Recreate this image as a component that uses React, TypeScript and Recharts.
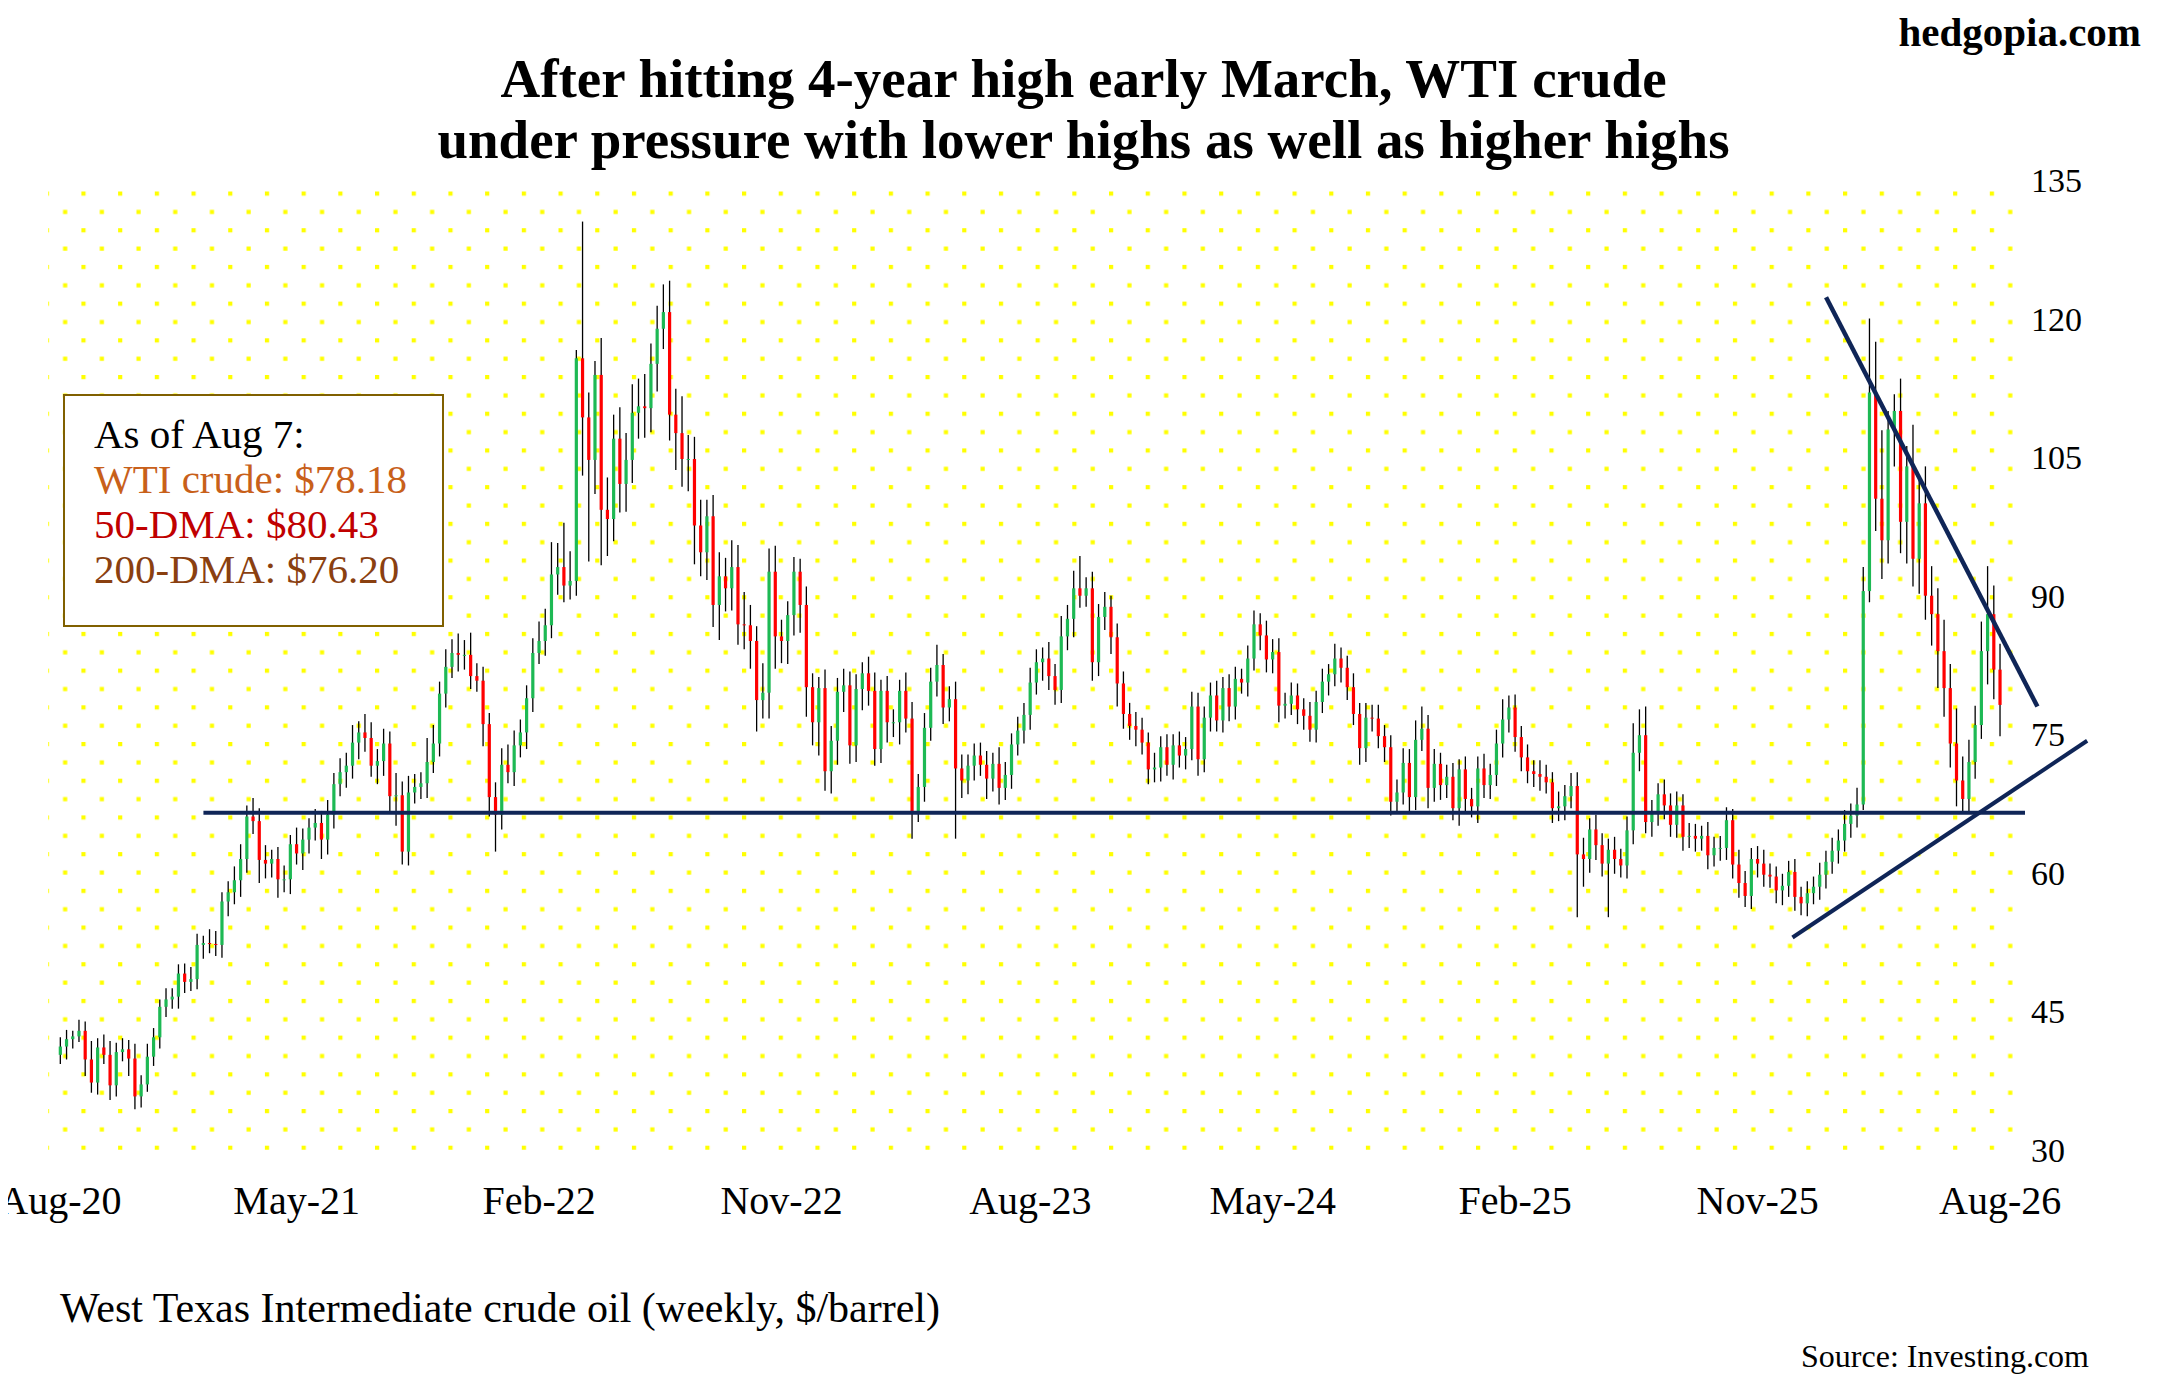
import React from "react";
import {
  ComposedChart,
  Bar,
  XAxis,
  YAxis,
  CartesianGrid,
  ReferenceLine,
} from "recharts";

// weekly closes, Aug 7 2020 .. Aug 7 2026
const closes2020 = [41.2,42.0,42.3,42.9,39.8,37.3,41.1,40.3,37.0,40.6,40.9,39.9,35.8,37.1,40.1,42.2,45.5,46.3,46.6,49.1,48.2,48.5];
const closes2021 = [52.2,52.4,52.3,52.2,56.9,57.9,59.2,61.5,66.1,65.6,61.4,61.0,61.5,59.3,59.3,63.1,62.1,63.6,64.9,65.4,63.6,66.3,69.6,70.9,71.6,74.1,75.2,74.6,71.6,72.1,74.0,68.3,68.4,62.3,68.7,69.3,69.7,72.0,74.0,79.4,82.3,83.8,83.6,83.6,81.3,80.8,76.1,68.2,66.3,71.7,70.9,73.8,75.2];
const closes2022 = [78.9,83.8,85.1,86.8,92.3,93.1,91.1,91.6,115.7,109.3,104.7,113.9,99.3,98.3,107.0,102.1,104.7,109.8,110.5,110.3,115.1,118.9,120.7,109.6,107.6,104.8,104.8,97.6,94.7,98.6,89.0,92.1,90.8,93.1,86.9,86.8,85.1,78.7,79.5,92.6,85.6,85.1,87.9,92.6,89.0,80.1,76.3,80.0,71.0,74.3,79.6,80.3];
const closes2023 = [73.8,79.9,81.6,79.7,73.4,79.7,76.3,76.3,79.7,76.7,66.7,69.3,75.7,80.7,82.5,77.9,78.8,71.3,70.0,71.6,72.7,71.7,70.2,71.8,69.2,70.6,73.9,75.4,77.1,80.6,82.8,83.2,81.3,79.8,85.6,87.5,90.8,90.0,90.8,82.8,87.7,88.8,85.5,80.5,77.2,75.9,75.5,74.1,71.2,71.4,73.6,71.7];
const closes2024 = [73.8,72.7,73.4,78.0,72.3,76.8,79.2,76.5,80.0,78.0,81.0,80.6,83.2,86.9,85.7,83.1,83.9,78.1,78.3,79.2,77.7,77.0,75.5,78.5,80.7,81.5,83.2,82.2,80.1,77.2,73.5,76.8,76.7,74.8,73.6,67.7,68.7,71.9,68.2,74.4,75.6,69.2,71.8,69.5,70.4,67.0,71.2,68.0,67.2,71.3,69.5,70.6];
const closes2025 = [74.0,76.6,77.9,74.7,72.5,71.0,70.7,70.4,69.8,67.0,67.2,68.3,69.4,62.0,61.5,64.7,63.0,61.0,62.5,61.5,60.8,64.6,73.0,74.9,65.5,66.5,68.5,67.3,65.2,67.3,63.9,64.0,63.7,64.0,61.9,62.7,62.7,65.7,60.9,58.9,57.5,61.5,61.0,59.8,59.6,58.1,58.6,60.1,57.4,56.7,57.8];
const closes2026 = [58.5,59.8,61.2,62.4,63.5,65.3,66.2,67.4,90.5,112.0,100.5,96.0,108.0,110.0,98.0,104.0,94.0,100.0,90.0,88.0,84.0,80.0,74.0,70.0,68.0,72.0,76.0,84.0,88.0,82.0,78.18];

// how far each week's high went above its body
const up2020 = [1,1,0.6,1.2,1,2,1,1.4,1.5,1, 1.2,1,1.6,1,1.4,1,0.8,1.2,0.9,1, 1.1,1.3];
const up2021 = [1.2,0.8,1.5,1.4,1,1.2,1.5,1.6,1.2,2, 1.4,1.6,1,1.3,1.5,1,1.8,1.2,1,1.5, 1.3,1.6,1.2,1.5,1.4,1.9,1.2,2,1.7,1.3, 1.6,1.3,2.4,1.5,1.8,1.4,1.2,2.6,2,1.3, 1.9,1.5,2.1,1.6,2.4,1.4,1.5,1.2,1.6,1.8, 2.2,1.6,1.4];
const up2022 = [1.4,1.6,2.1,1.8,3.5,2.6,4.8,3.2,0.9,14.8, 2.7,1.5,4,3.5,2.6,3.4,2.9,3.1,3,3.5, 2.2,2.5,3,3.4,2.8,4,2.6,2.4,2.8,1.8, 2.3,2.6,2,2.9,2.4,3.5,2.2,1.6,3.2,2.5, 2.8,1.8,1.5,1.6,1.4,2,1.5,1.2,2,1.6, 1.5,1.8];
const up2023 = [1.5,1.6,1.2,1.8,2,1.2,1.6,1.4,1.2,2, 1.8,1.4,1.6,1.5,2.2,1.2,1.4,1.9,1.5,1.2, 1.3,1.4,1.5,1.2,1.8,1.4,1.2,1.5,1.3,1.6, 1.4,1.2,1.8,1.3,2.2,1.5,1.9,3.5,1.2,1.8, 1.4,1.6,1.2,1.5,1.3,1.2,1.5,1.3,1.1,1.6, 1.2,1.4];
const up2024 = [1.2,1.5,1.3,1.6,1.5,1.2,1.4,1.6,1.2,1.5, 1.3,1.1,1.4,1.5,1.2,1.6,1.4,1.5,1.2,1.4, 1.3,1.2,1.5,1.2,1.4,1.1,1.6,1.2,1.3,1.5, 1.2,1.6,1.4,1.5,1.2,1.3,1.4,1.6,1.5,2.1, 2.4,1.5,1.6,1.2,1.3,1.5,1.1,1.4,1.2,1.3, 1.6,1.2];
const up2025 = [1.5,2.2,1.3,1.4,1.2,1.4,1.2,1.5,1.3,1.1, 1.6,1.2,1.4,1.5,1.8,1.2,1.6,1.3,1.2,1.4, 1.1,1.5,3.2,2.8,3.1,1.4,1.2,1.6,1.3,1.5, 1.2,1.4,1.3,1.1,1.5,1.2,1.3,1.4,1.2,1.6, 1.3,1.2,1.4,1.5,1.2,1.1,1.3,1.2,1.4,1.1, 1.3];
const up2026 = [1.1,1.3,1.2,1.4,1.2,1.5,1.3,1.8,2.6,8, 5.5,7.4,2,1.8,3.5,2.2,4.5,2.6,4,3.2, 2.8,3.4,2.6,3.8,2.6,2.4,2.1,3.2,5.2,3.1, 2.8];

// how far each week's low went below its body
const dn2020 = [1,1.4,1,0.6,1.8,1.1,1.3,1,1.6,1.2, 1,1.9,1.4,1.2,0.8,1,1.2,1.1,1,1.3, 1.2,1];
const dn2021 = [1.1,1.5,1,1.2,1.4,1.6,1.3,1.8,1.5,1.4, 2.5,1.6,1.5,2,1.4,1.6,1.2,1.8,1.5,1.4, 2.1,1.6,1.5,1.3,1.7,1.4,1.8,1.5,1.2,2, 1.6,1.6,3.2,1.4,1.5,1.2,1.3,1.6,1.2,1.4, 1.5,1.2,1.8,1.6,1.4,1.2,2.4,2.1,4,1.6, 1.2,1.5,1.3];
const dn2022 = [1.8,1.5,1.2,1.6,1.4,2.2,1.8,1.5,1.6,6.3, 11,3.7,6,4,2.4,3.1,3,2.5,2.8,3.2, 2.6,3,2.2,2.8,4,3,3.5,4.2,2.6,3, 2.4,3.8,2.5,2.4,2.2,2.6,3,3.4,2,2.8, 3.5,2.4,2.5,2.2,3,3.2,2.5,3.6,2.1,2.4, 2.6,2.2];
const dn2023 = [2,1.8,2.3,1.6,1.8,1.5,2.2,1.6,2.4,1.5, 3,1.2,1.6,1.4,1.6,1.8,1.5,7.6,1.9,1.5, 1.6,1.2,2.2,1.4,1.8,1.3,1.5,1.2,1.4,1.6, 1.3,2,1.5,1.6,1.4,1.5,2,1.3,1.2,2, 1.5,1.4,1.8,2.5,1.6,1.5,1.8,1.3,1.6,1.4, 1.5,1.2];
const dn2024 = [1.6,1.3,1.5,1.2,1.8,1.4,1.5,1.2,1.3,1.6, 1.4,1.2,1.5,1.3,1.6,1.4,1.5,1.8,1.4,1.2, 1.6,1.5,1.3,1.4,1.2,1.5,1.3,1.6,1.4,1.2, 1.8,1.5,1.4,1.3,1.6,1.5,1.2,1.3,1.6,1.4, 1.2,2.2,1.5,1.6,1.4,1.3,1.9,1.5,1.2,1.8, 1.4,1.5];
const dn2025 = [1.2,1.5,1.4,1.6,1.5,1.3,1.4,1.5,1.2,1.6, 1.4,1.5,1.3,6.8,3,1.5,1.6,1.4,5.8,1.6, 1.3,1.4,1.5,2,1.2,1.6,1.4,1.5,1.3,1.4, 1.5,1.2,1.4,1.3,1.5,1.2,1.4,1.3,1.5,1.6, 1.2,1.4,1.5,1.3,1.2,1.4,1.6,1.2,1.5,1.3, 1.4];
const dn2026 = [1.2,1.4,1.5,1.3,1.4,1.2,1.5,1.3,0.6,1.2, 3.5,4.2,2.5,4,3.4,4.5,3,3.8,2.6,3.4, 4,3.1,2.6,2.8,1.6,1.4,1.8,1.5,3.6,3.2, 3.4];

const weeklyCloses = [...closes2020, ...closes2021, ...closes2022, ...closes2023, ...closes2024, ...closes2025, ...closes2026];
const upMoves = [...up2020, ...up2021, ...up2022, ...up2023, ...up2024, ...up2025, ...up2026];
const downMoves = [...dn2020, ...dn2021, ...dn2022, ...dn2023, ...dn2024, ...dn2025, ...dn2026];

const tickIdx = [0, 38, 77, 116, 156, 195, 234, 273, 312];
const tickLabels = ["Aug-20", "May-21", "Feb-22", "Nov-22", "Aug-23", "May-24", "Feb-25", "Nov-25", "Aug-26"];
const priceTicks = [30, 45, 60, 75, 90, 105, 120, 135];

const supportLevel = 66.5;
const downTrend = [{ x: 284, y: 122.3 }, { x: 318, y: 78 }];
const upTrend = [{ x: 278.6, y: 53 }, { x: 326, y: 74.3 }];

const rows = weeklyCloses.map((close, i) => {
  const open = i === 0 ? 40.3 : weeklyCloses[i - 1];
  const high = Math.max(open, close) + (upMoves[i] ?? 1);
  const low = Math.min(open, close) - (downMoves[i] ?? 1);
  return { i, open, close, high, low, range: [low, high] };
});

const serif = "'Liberation Serif', 'Times New Roman', serif";

function Candle(props: any) {
  const { x, y, width, height, payload } = props;
  if (!payload || height == null) return null;
  const { open, close, high, low } = payload;
  const cx = x + width / 2;
  const toY = (v: number) => y + ((high - v) / (high - low)) * height;
  const top = toY(Math.max(open, close));
  const bot = toY(Math.min(open, close));
  const up = close >= open;
  return (
    <g>
      <line x1={cx} x2={cx} y1={y} y2={y + height} stroke="#000" strokeWidth={1.3} />
      <rect x={cx - 1.6} y={top} width={3.2} height={Math.max(bot - top, 1)} fill={up ? "#1db954" : "#ff0000"} />
    </g>
  );
}

export default function App() {
  const navy = "#0f2557";
  return (
    <div style={{ position: "relative", width: 2151, height: 1372, fontFamily: serif, background: "#fff" }}>
      <div style={{ position: "absolute", right: 18, top: 0, fontSize: 41, fontWeight: "bold" }}>hedgopia.com</div>
      <div style={{ position: "absolute", left: 0, width: 2151, top: 40, textAlign: "center", fontSize: 55, fontWeight: "bold", lineHeight: "61px" }}>
        After hitting 4-year high early March, WTI crude
        <br />
        under pressure with lower highs as well as higher highs
      </div>
      <ComposedChart
        width={2151}
        height={1372}
        data={rows}
        margin={{ top: 172, right: 34, bottom: 160, left: 40 }}
        barCategoryGap={0}
      >
        <defs>
          <pattern id="dots" width={36.7} height={36.7} patternUnits="userSpaceOnUse">
            <rect x={0} y={0} width={4.2} height={4.2} fill="#ffff00" />
            <rect x={18.35} y={18.35} width={4.2} height={4.2} fill="#ffff00" />
          </pattern>
        </defs>
        <CartesianGrid horizontal={false} vertical={false} fill="url(#dots)" />
        <XAxis
          dataKey="i"
          type="number"
          domain={[-2, 316]}
          ticks={tickIdx}
          tickFormatter={(v) => tickLabels[tickIdx.indexOf(v)] ?? ""}
          axisLine={false}
          tickLine={false}
          interval={0}
          allowDataOverflow
          tick={{ fontSize: 40, fill: "#000", fontFamily: serif }}
          tickMargin={30}
          height={70}
        />
        <YAxis
          orientation="right"
          domain={[30, 135]}
          ticks={priceTicks}
          axisLine={false}
          tickLine={false}
          tick={{ fontSize: 34, fill: "#000", fontFamily: serif }}
          width={100}
          tickMargin={0}
        />
        <Bar dataKey="range" shape={<Candle />} isAnimationActive={false} barSize={6} />
        <ReferenceLine
          segment={[{ x: 23, y: supportLevel }, { x: 316, y: supportLevel }]}
          stroke={navy}
          strokeWidth={4}
          ifOverflow="visible"
        />
        <ReferenceLine segment={downTrend} stroke={navy} strokeWidth={4.5} ifOverflow="visible" />
        <ReferenceLine segment={upTrend} stroke={navy} strokeWidth={4} ifOverflow="visible" />
      </ComposedChart>
      <div
        style={{
          position: "absolute",
          left: 55,
          top: 386,
          width: 381,
          height: 233,
          border: "2px solid #806000",
          background: "#fff",
          fontSize: 41,
          lineHeight: "45px",
          paddingLeft: 29,
          paddingTop: 16,
          boxSizing: "border-box",
        }}
      >
        <div style={{ color: "#000" }}>As of Aug 7:</div>
        <div style={{ color: "#c8601a" }}>WTI crude: $78.18</div>
        <div style={{ color: "#c00000" }}>50-DMA: $80.43</div>
        <div style={{ color: "#8a4010" }}>200-DMA: $76.20</div>
      </div>
      <div style={{ position: "absolute", left: 52, top: 1276, fontSize: 42 }}>
        West Texas Intermediate crude oil (weekly, $/barrel)
      </div>
      <div style={{ position: "absolute", right: 70, top: 1330, fontSize: 32 }}>Source: Investing.com</div>
    </div>
  );
}
